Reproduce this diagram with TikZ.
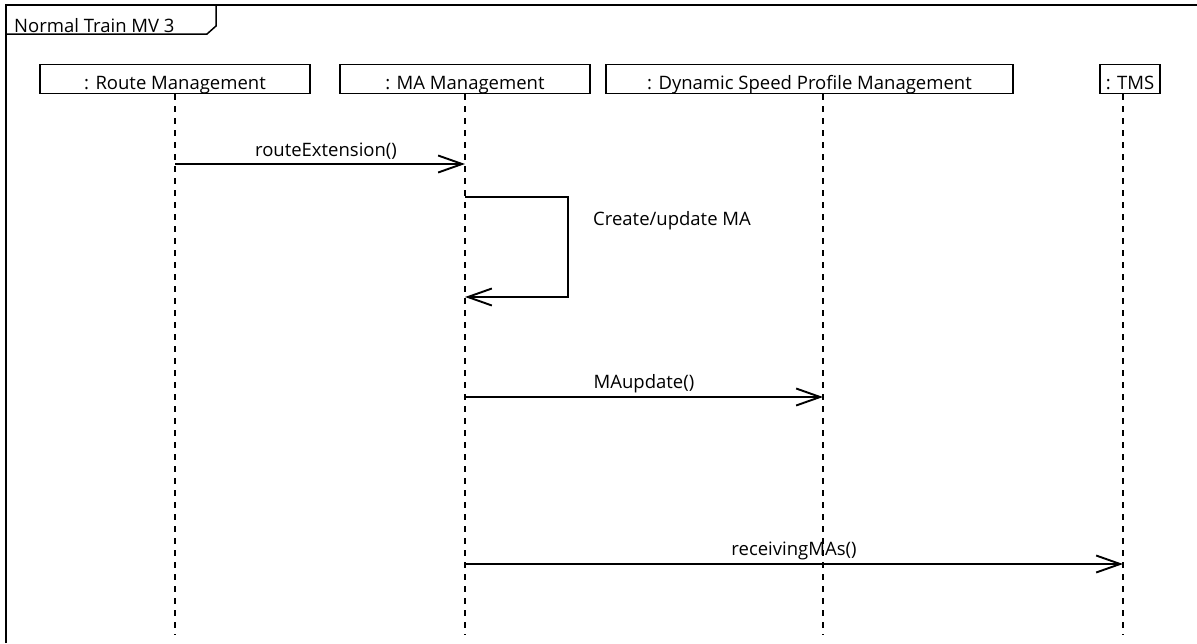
\documentclass[tikz,border=0pt]{standalone}
\usepackage{fontspec}
\setmainfont{Open Sans}
\usetikzlibrary{arrows.meta, calc, positioning}
\tikzstyle{lifebox} = [rectangle, draw=black, line width=1.5pt, inner xsep=0pt, inner ysep=0pt, text height=24.5pt, text depth=4.5pt, font=\fontsize{18.5}{22}\selectfont]
\tikzstyle{lifeline} = [line width=1.7pt, dash pattern=on 6pt off 6pt]
\tikzstyle{msg} = [line width=1.9pt, -{Straight Barb[length=24pt, width=17pt, line width=1.9pt]}]
\tikzstyle{msglabel} = [font=\fontsize{18.5}{22}\selectfont]
\tikzstyle{frame} = [line width=1.5pt]

\begin{document}
\begin{tikzpicture}[x=1pt, y=-1pt]
  \useasboundingbox (0,0) rectangle (1197,643);

  % frame
  \draw [frame] (6,643) -- (6,5) -- (1197,5);
  \node (title) [msglabel, anchor=base west, inner xsep=0pt] at (14,32) {Normal Train MV 3};
  \draw [frame] (6,34) -- (207,34) -- (216,26) -- (216,5);

  % lifelines
  \node (route) [lifebox, minimum width=270pt] at (175,79) {: Route Management};
  \node (ma) [lifebox, minimum width=250pt] at (465,79) {: MA Management};
  \node (dsp) [lifebox, minimum width=407pt] at (809.5,79) {: Dynamic Speed Profile Management};
  \node (tms) [lifebox, minimum width=60pt] at (1130,79) {: TMS};

  \coordinate (route end) at (175,635);
  \coordinate (ma end) at (465,635);
  \coordinate (dsp end) at (823,635);
  \coordinate (tms end) at (1123,635);

  \draw [lifeline] (route.south -| route end) -- (route end);
  \draw [lifeline] (ma.south -| ma end) -- (ma end);
  \draw [lifeline] (dsp.south -| dsp end) -- (dsp end);
  \draw [lifeline] (tms.south -| tms end) -- (tms end);

  % messages
  \draw [msg] (route end |- 0,164) -- node[msglabel, above, xshift=6pt] {routeExtension()} (ma end |- 0,164);

  \draw [msg] (ma end |- 0,197) -- (568,197) -- (568,297) -- (ma end |- 0,297);
  \node (selfmsg) [msglabel, anchor=base west, inner xsep=0pt] at (593,225) {Create/update MA};

  \draw [msg] (ma end |- 0,397) -- node[msglabel, above] {MAupdate()} (dsp end |- 0,397);

  \draw [msg] (ma end |- 0,564) -- node[msglabel, above] {receivingMAs()} (tms end |- 0,564);
\end{tikzpicture}
\end{document}
